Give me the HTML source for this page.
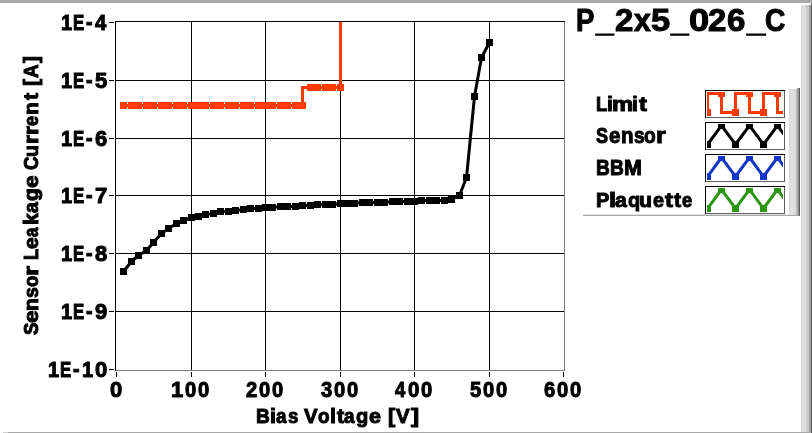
<!DOCTYPE html>
<html><head><meta charset="utf-8"><style>
html,body{margin:0;padding:0;background:#fff;width:812px;height:433px;overflow:hidden}
svg{display:block}
text{font-family:"Liberation Sans",sans-serif;font-weight:bold;fill:#000;stroke:#000}
.t{opacity:0.999}
</style></head><body>
<svg width="812" height="433" viewBox="0 0 812 433">
<rect x="0" y="0" width="812" height="433" fill="#fff"/>
<rect x="0" y="0" width="812" height="3" fill="#a9a9a9"/>
<rect x="8" y="432" width="804" height="1" fill="#a9a9a9"/>
<rect x="3" y="432" width="5" height="1" fill="#cfcfcf"/>
<rect x="801" y="5" width="1" height="427" fill="#d8d8d8"/>
<rect x="802" y="5" width="1" height="427" fill="#dcdcdc"/>
<rect x="803" y="5" width="3" height="427" fill="#e0e0e0"/>
<rect x="806" y="5" width="3" height="427" fill="#cbcbcb"/>
<rect x="809" y="5" width="1" height="427" fill="#a6a6a6"/>
<rect x="810" y="5" width="1" height="427" fill="#9a9a9a"/>
<rect x="811" y="3" width="1" height="430" fill="#606060"/>
<g shape-rendering="crispEdges">
<rect x="191" y="22" width="1" height="348" fill="#000"/><rect x="265" y="22" width="1" height="348" fill="#000"/><rect x="340" y="22" width="1" height="348" fill="#000"/><rect x="414" y="22" width="1" height="348" fill="#000"/><rect x="489" y="22" width="1" height="348" fill="#000"/><rect x="116" y="80" width="448" height="1" fill="#000"/><rect x="116" y="138" width="448" height="1" fill="#000"/><rect x="116" y="195" width="448" height="1" fill="#000"/><rect x="116" y="253" width="448" height="1" fill="#000"/><rect x="116" y="311" width="448" height="1" fill="#000"/>
<rect x="109" y="22" width="5" height="1" fill="#000"/><rect x="109" y="80" width="5" height="1" fill="#000"/><rect x="109" y="138" width="5" height="1" fill="#000"/><rect x="109" y="195" width="5" height="1" fill="#000"/><rect x="109" y="253" width="5" height="1" fill="#000"/><rect x="109" y="311" width="5" height="1" fill="#000"/><rect x="109" y="369" width="5" height="1" fill="#000"/><rect x="116" y="372" width="1" height="5" fill="#000"/><rect x="191" y="372" width="1" height="5" fill="#000"/><rect x="265" y="372" width="1" height="5" fill="#000"/><rect x="340" y="372" width="1" height="5" fill="#000"/><rect x="414" y="372" width="1" height="5" fill="#000"/><rect x="489" y="372" width="1" height="5" fill="#000"/><rect x="563" y="372" width="1" height="5" fill="#000"/>
<rect x="115" y="21" width="450" height="1" fill="#000"/>
<rect x="115" y="21" width="1" height="350" fill="#000"/>
<rect x="116" y="370" width="449" height="1" fill="#808080"/>
<rect x="564" y="22" width="1" height="349" fill="#808080"/>
</g>
<svg x="116" y="22" width="448" height="348" viewBox="116 22 448 348" overflow="hidden">
<path d="M123.5,105.5 L302.5,105.5 L302.5,87.5 L340.5,87.5 L340.5,0" fill="none" stroke="#ff3a00" stroke-width="3"/>
<g fill="#ff3a00" shape-rendering="crispEdges"><rect x="120" y="102" width="7" height="7"/><rect x="128" y="102" width="7" height="7"/><rect x="135" y="102" width="7" height="7"/><rect x="143" y="102" width="7" height="7"/><rect x="150" y="102" width="7" height="7"/><rect x="158" y="102" width="7" height="7"/><rect x="165" y="102" width="7" height="7"/><rect x="173" y="102" width="7" height="7"/><rect x="180" y="102" width="7" height="7"/><rect x="188" y="102" width="7" height="7"/><rect x="195" y="102" width="7" height="7"/><rect x="202" y="102" width="7" height="7"/><rect x="210" y="102" width="7" height="7"/><rect x="217" y="102" width="7" height="7"/><rect x="225" y="102" width="7" height="7"/><rect x="232" y="102" width="7" height="7"/><rect x="240" y="102" width="7" height="7"/><rect x="247" y="102" width="7" height="7"/><rect x="255" y="102" width="7" height="7"/><rect x="262" y="102" width="7" height="7"/><rect x="269" y="102" width="7" height="7"/><rect x="277" y="102" width="7" height="7"/><rect x="284" y="102" width="7" height="7"/><rect x="292" y="102" width="7" height="7"/><rect x="299" y="102" width="7" height="7"/><rect x="307" y="84" width="7" height="7"/><rect x="314" y="84" width="7" height="7"/><rect x="322" y="84" width="7" height="7"/><rect x="329" y="84" width="7" height="7"/><rect x="337" y="84" width="7" height="7"/></g>
<path d="M123.5,271.5 L131.5,261.5 L138.5,255.5 L146.5,250.5 L153.5,242.5 L161.5,233.5 L168.5,228.5 L176.5,223.5 L183.5,220.5 L191.5,217.5 L198.5,216.5 L205.5,214.5 L213.5,213.5 L220.5,211.5 L228.5,211.5 L235.5,210.5 L243.5,209.5 L250.5,208.5 L258.5,208.5 L265.5,207.5 L272.5,207.5 L280.5,206.5 L287.5,206.5 L295.5,206.5 L302.5,205.5 L310.5,205.5 L317.5,204.5 L325.5,204.5 L332.5,204.5 L340.5,203.5 L347.5,203.5 L354.5,203.5 L362.5,202.5 L369.5,202.5 L377.5,202.5 L384.5,202.5 L392.5,201.5 L399.5,201.5 L407.5,201.5 L414.5,201.5 L421.5,200.5 L429.5,200.5 L436.5,200.5 L444.5,200.5 L451.5,199.5 L459.5,195.5 L466.5,177.5 L474.5,96.5 L481.5,57.5 L489.5,42.5" fill="none" stroke="#000" stroke-width="3" stroke-linejoin="round"/>
<g fill="#000" shape-rendering="crispEdges"><rect x="120" y="268" width="7" height="7"/><rect x="128" y="258" width="7" height="7"/><rect x="135" y="252" width="7" height="7"/><rect x="143" y="247" width="7" height="7"/><rect x="150" y="239" width="7" height="7"/><rect x="158" y="230" width="7" height="7"/><rect x="165" y="225" width="7" height="7"/><rect x="173" y="220" width="7" height="7"/><rect x="180" y="217" width="7" height="7"/><rect x="188" y="214" width="7" height="7"/><rect x="195" y="213" width="7" height="7"/><rect x="202" y="211" width="7" height="7"/><rect x="210" y="210" width="7" height="7"/><rect x="217" y="208" width="7" height="7"/><rect x="225" y="208" width="7" height="7"/><rect x="232" y="207" width="7" height="7"/><rect x="240" y="206" width="7" height="7"/><rect x="247" y="205" width="7" height="7"/><rect x="255" y="205" width="7" height="7"/><rect x="262" y="204" width="7" height="7"/><rect x="269" y="204" width="7" height="7"/><rect x="277" y="203" width="7" height="7"/><rect x="284" y="203" width="7" height="7"/><rect x="292" y="203" width="7" height="7"/><rect x="299" y="202" width="7" height="7"/><rect x="307" y="202" width="7" height="7"/><rect x="314" y="201" width="7" height="7"/><rect x="322" y="201" width="7" height="7"/><rect x="329" y="201" width="7" height="7"/><rect x="337" y="200" width="7" height="7"/><rect x="344" y="200" width="7" height="7"/><rect x="351" y="200" width="7" height="7"/><rect x="359" y="199" width="7" height="7"/><rect x="366" y="199" width="7" height="7"/><rect x="374" y="199" width="7" height="7"/><rect x="381" y="199" width="7" height="7"/><rect x="389" y="198" width="7" height="7"/><rect x="396" y="198" width="7" height="7"/><rect x="404" y="198" width="7" height="7"/><rect x="411" y="198" width="7" height="7"/><rect x="418" y="197" width="7" height="7"/><rect x="426" y="197" width="7" height="7"/><rect x="433" y="197" width="7" height="7"/><rect x="441" y="197" width="7" height="7"/><rect x="448" y="196" width="7" height="7"/><rect x="456" y="192" width="7" height="7"/><rect x="463" y="174" width="7" height="7"/><rect x="471" y="93" width="7" height="7"/><rect x="478" y="54" width="7" height="7"/><rect x="486" y="39" width="7" height="7"/></g>
</svg>
<g class="t"><text transform="translate(61.00,30.00) scale(0.9091,1)" font-size="22.000" stroke-width="1.0">1</text>
<text transform="translate(73.00,30.00) scale(0.7652,1)" font-size="22.000" stroke-width="1.0">E</text>
<text transform="translate(86.00,29.00) scale(0.8928,1)" font-size="22.000" stroke-width="1.0">-</text>
<text transform="translate(95.00,30.00) scale(0.9231,1)" font-size="22.000" stroke-width="1.0">4</text>
<text transform="translate(61.00,88.00) scale(0.9091,1)" font-size="22.000" stroke-width="1.0">1</text>
<text transform="translate(73.00,88.00) scale(0.7652,1)" font-size="22.000" stroke-width="1.0">E</text>
<text transform="translate(86.00,87.00) scale(0.8928,1)" font-size="22.000" stroke-width="1.0">-</text>
<text transform="translate(95.00,88.00) scale(1.0000,1)" font-size="22.000" stroke-width="1.0">5</text>
<text transform="translate(61.00,146.00) scale(0.9091,1)" font-size="22.000" stroke-width="1.0">1</text>
<text transform="translate(73.00,146.00) scale(0.7652,1)" font-size="22.000" stroke-width="1.0">E</text>
<text transform="translate(86.00,145.00) scale(0.8928,1)" font-size="22.000" stroke-width="1.0">-</text>
<text transform="translate(95.00,146.00) scale(1.0000,1)" font-size="22.000" stroke-width="1.0">6</text>
<text transform="translate(61.00,203.00) scale(0.9091,1)" font-size="22.000" stroke-width="1.0">1</text>
<text transform="translate(73.00,203.00) scale(0.7652,1)" font-size="22.000" stroke-width="1.0">E</text>
<text transform="translate(86.00,202.00) scale(0.8928,1)" font-size="22.000" stroke-width="1.0">-</text>
<text transform="translate(95.00,203.00) scale(1.0000,1)" font-size="22.000" stroke-width="1.0">7</text>
<text transform="translate(61.00,261.00) scale(0.9091,1)" font-size="22.000" stroke-width="1.0">1</text>
<text transform="translate(73.00,261.00) scale(0.7652,1)" font-size="22.000" stroke-width="1.0">E</text>
<text transform="translate(86.00,260.00) scale(0.8928,1)" font-size="22.000" stroke-width="1.0">-</text>
<text transform="translate(95.00,261.00) scale(1.0000,1)" font-size="22.000" stroke-width="1.0">8</text>
<text transform="translate(61.00,319.00) scale(0.9091,1)" font-size="22.000" stroke-width="1.0">1</text>
<text transform="translate(73.00,319.00) scale(0.7652,1)" font-size="22.000" stroke-width="1.0">E</text>
<text transform="translate(86.00,318.00) scale(0.8928,1)" font-size="22.000" stroke-width="1.0">-</text>
<text transform="translate(95.00,319.00) scale(1.0000,1)" font-size="22.000" stroke-width="1.0">9</text>
<text transform="translate(48.00,377.00) scale(0.9091,1)" font-size="22.000" stroke-width="1.0">1</text>
<text transform="translate(60.00,377.00) scale(0.7652,1)" font-size="22.000" stroke-width="1.0">E</text>
<text transform="translate(73.00,376.00) scale(0.8928,1)" font-size="22.000" stroke-width="1.0">-</text>
<text transform="translate(82.00,377.00) scale(0.9091,1)" font-size="22.000" stroke-width="1.0">1</text>
<text transform="translate(95.00,377.00) scale(1.0070,1)" font-size="22.000" stroke-width="1.0">0</text>
<text transform="translate(110.00,397.00) scale(1.0000,1)" font-size="22.000" stroke-width="1.0">0</text>
<text transform="translate(171.00,397.00) scale(1.0000,1)" font-size="22.000" stroke-width="1.0">1</text>
<text transform="translate(185.00,397.00) scale(0.9167,1)" font-size="22.000" stroke-width="1.0">0</text>
<text transform="translate(198.00,397.00) scale(0.9167,1)" font-size="22.000" stroke-width="1.0">0</text>
<text transform="translate(246.00,397.00) scale(0.9167,1)" font-size="22.000" stroke-width="1.0">2</text>
<text transform="translate(259.00,397.00) scale(0.9167,1)" font-size="22.000" stroke-width="1.0">0</text>
<text transform="translate(272.00,397.00) scale(0.9167,1)" font-size="22.000" stroke-width="1.0">0</text>
<text transform="translate(321.00,397.00) scale(0.9167,1)" font-size="22.000" stroke-width="1.0">3</text>
<text transform="translate(334.00,397.00) scale(0.9167,1)" font-size="22.000" stroke-width="1.0">0</text>
<text transform="translate(347.00,397.00) scale(0.9167,1)" font-size="22.000" stroke-width="1.0">0</text>
<text transform="translate(395.00,397.00) scale(0.8403,1)" font-size="22.000" stroke-width="1.0">4</text>
<text transform="translate(408.00,397.00) scale(0.9308,1)" font-size="22.000" stroke-width="1.0">0</text>
<text transform="translate(421.00,397.00) scale(0.9167,1)" font-size="22.000" stroke-width="1.0">0</text>
<text transform="translate(470.00,397.00) scale(0.9167,1)" font-size="22.000" stroke-width="1.0">5</text>
<text transform="translate(483.00,397.00) scale(0.9167,1)" font-size="22.000" stroke-width="1.0">0</text>
<text transform="translate(496.00,397.00) scale(0.9167,1)" font-size="22.000" stroke-width="1.0">0</text>
<text transform="translate(544.00,397.00) scale(0.9167,1)" font-size="22.000" stroke-width="1.0">6</text>
<text transform="translate(557.00,397.00) scale(0.9167,1)" font-size="22.000" stroke-width="1.0">0</text>
<text transform="translate(570.00,397.00) scale(0.9167,1)" font-size="22.000" stroke-width="1.0">0</text>
<text transform="translate(596.00,111.00) scale(0.8999,1)" font-size="20.417" stroke-width="1.0">L</text>
<text transform="translate(607.00,111.00) scale(1.0412,1)" font-size="20.417" stroke-width="1.0">i</text>
<text transform="translate(612.00,111.00) scale(1.1682,1)" font-size="20.417" stroke-width="1.0">m</text>
<text transform="translate(632.00,111.00) scale(1.0412,1)" font-size="20.417" stroke-width="1.0">i</text>
<text transform="translate(639.00,111.00) scale(1.1586,1)" font-size="20.417" stroke-width="1.0">t</text>
<text transform="translate(596.00,143.00) scale(0.8376,1)" font-size="21.575" stroke-width="1.0">S</text>
<text transform="translate(609.00,143.00) scale(0.9520,1)" font-size="21.575" stroke-width="1.0">e</text>
<text transform="translate(621.00,143.00) scale(0.9520,1)" font-size="21.575" stroke-width="1.0">n</text>
<text transform="translate(634.00,143.00) scale(0.8821,1)" font-size="21.575" stroke-width="1.0">s</text>
<text transform="translate(644.00,143.00) scale(0.8880,1)" font-size="21.575" stroke-width="1.0">o</text>
<text transform="translate(656.00,143.00) scale(1.1640,1)" font-size="21.575" stroke-width="1.0">r</text>
<text transform="translate(596.00,175.00) scale(0.8874,1)" font-size="21.575" stroke-width="1.0">B</text>
<text transform="translate(610.00,175.00) scale(0.8874,1)" font-size="21.575" stroke-width="1.0">B</text>
<text transform="translate(624.00,175.00) scale(0.9962,1)" font-size="21.575" stroke-width="1.0">M</text>
<text transform="translate(596.00,207.00) scale(0.9762,1)" font-size="20.488" stroke-width="1.0">P</text>
<text transform="translate(609.00,207.00) scale(1.2441,1)" font-size="20.488" stroke-width="1.0">l</text>
<text transform="translate(615.00,207.00) scale(1.0407,1)" font-size="20.488" stroke-width="1.0">a</text>
<text transform="translate(628.00,207.00) scale(0.9707,1)" font-size="20.488" stroke-width="1.0">q</text>
<text transform="translate(639.00,207.00) scale(1.0407,1)" font-size="20.488" stroke-width="1.0">u</text>
<text transform="translate(653.00,207.00) scale(0.9707,1)" font-size="20.488" stroke-width="1.0">e</text>
<text transform="translate(665.00,207.00) scale(1.1581,1)" font-size="20.488" stroke-width="1.0">t</text>
<text transform="translate(674.00,207.00) scale(1.0407,1)" font-size="20.488" stroke-width="1.0">t</text>
<text transform="translate(682.00,207.00) scale(0.8995,1)" font-size="20.488" stroke-width="1.0">e</text>
<text transform="translate(576.00,31.00) scale(0.8875,1)" font-size="31.045" stroke-width="1.0">P</text>
<text transform="translate(596.00,31.00) scale(1.0203,1)" font-size="31.045" stroke-width="1.0">_</text>
<text transform="translate(615.00,31.00) scale(1.0630,1)" font-size="31.045" stroke-width="1.0">2</text>
<text transform="translate(634.00,31.00) scale(0.9701,1)" font-size="31.045" stroke-width="1.0">x</text>
<text transform="translate(651.00,31.00) scale(1.1127,1)" font-size="31.045" stroke-width="1.0">5</text>
<text transform="translate(671.00,31.00) scale(1.0203,1)" font-size="31.045" stroke-width="1.0">_</text>
<text transform="translate(689.00,31.00) scale(1.1680,1)" font-size="31.045" stroke-width="1.0">0</text>
<text transform="translate(708.00,31.00) scale(1.0630,1)" font-size="31.045" stroke-width="1.0">2</text>
<text transform="translate(727.00,31.00) scale(1.0630,1)" font-size="31.045" stroke-width="1.0">6</text>
<text transform="translate(747.00,31.00) scale(1.0630,1)" font-size="31.045" stroke-width="1.0">_</text>
<text transform="translate(765.00,31.00) scale(0.9074,1)" font-size="31.045" stroke-width="1.0">C</text>
<text transform="translate(256.00,423.00) scale(0.9288,1)" font-size="20.534" stroke-width="1.0">B</text>
<text transform="translate(270.00,423.00) scale(1.0507,1)" font-size="20.534" stroke-width="1.0">i</text>
<text transform="translate(276.00,423.00) scale(0.9193,1)" font-size="20.534" stroke-width="1.0">a</text>
<text transform="translate(288.00,423.00) scale(0.9081,1)" font-size="20.534" stroke-width="1.0">s</text>
<text transform="translate(304.00,423.00) scale(0.9943,1)" font-size="20.534" stroke-width="1.0">V</text>
<text transform="translate(318.00,423.00) scale(0.9193,1)" font-size="20.534" stroke-width="1.0">o</text>
<text transform="translate(330.00,423.00) scale(1.0507,1)" font-size="20.534" stroke-width="1.0">l</text>
<text transform="translate(337.00,423.00) scale(1.0507,1)" font-size="20.534" stroke-width="1.0">t</text>
<text transform="translate(344.00,423.00) scale(0.9193,1)" font-size="20.534" stroke-width="1.0">a</text>
<text transform="translate(356.00,423.00) scale(0.9801,1)" font-size="20.534" stroke-width="1.0">g</text>
<text transform="translate(369.00,423.00) scale(1.0507,1)" font-size="20.534" stroke-width="1.0">e</text>
<text transform="translate(388.00,423.00) scale(1.0507,1)" font-size="20.534" stroke-width="1.0">[</text>
<text transform="translate(396.00,423.00) scale(0.9943,1)" font-size="20.534" stroke-width="1.0">V</text>
<text transform="translate(411.00,423.00) scale(1.1886,1)" font-size="20.534" stroke-width="1.0">]</text>
<text transform="translate(38.00,335.00) rotate(-90) scale(0.9338,1)" font-size="19.951" stroke-width="1.0">S</text>
<text transform="translate(38.00,323.00) rotate(-90) scale(1.1325,1)" font-size="19.951" stroke-width="1.0">e</text>
<text transform="translate(38.00,311.00) rotate(-90) scale(1.0564,1)" font-size="19.951" stroke-width="1.0">n</text>
<text transform="translate(38.00,298.00) rotate(-90) scale(0.9788,1)" font-size="19.951" stroke-width="1.0">s</text>
<text transform="translate(38.00,287.00) rotate(-90) scale(0.9191,1)" font-size="19.951" stroke-width="1.0">o</text>
<text transform="translate(38.00,276.00) rotate(-90) scale(1.2916,1)" font-size="19.951" stroke-width="1.0">r</text>
<text transform="translate(38.00,260.00) rotate(-90) scale(0.9130,1)" font-size="19.951" stroke-width="1.0">L</text>
<text transform="translate(38.00,249.00) rotate(-90) scale(1.0564,1)" font-size="19.951" stroke-width="1.0">e</text>
<text transform="translate(38.00,237.00) rotate(-90) scale(0.8460,1)" font-size="19.951" stroke-width="1.0">a</text>
<text transform="translate(38.00,225.00) rotate(-90) scale(1.0564,1)" font-size="19.951" stroke-width="1.0">k</text>
<text transform="translate(38.00,213.00) rotate(-90) scale(0.9853,1)" font-size="19.951" stroke-width="1.0">a</text>
<text transform="translate(38.00,201.00) rotate(-90) scale(1.0564,1)" font-size="19.951" stroke-width="1.0">g</text>
<text transform="translate(38.00,188.00) rotate(-90) scale(1.1325,1)" font-size="19.951" stroke-width="1.0">e</text>
<text transform="translate(38.00,170.00) rotate(-90) scale(0.9421,1)" font-size="19.951" stroke-width="1.0">C</text>
<text transform="translate(38.00,157.00) rotate(-90) scale(0.9788,1)" font-size="19.951" stroke-width="1.0">u</text>
<text transform="translate(38.00,144.00) rotate(-90) scale(1.1755,1)" font-size="19.951" stroke-width="1.0">r</text>
<text transform="translate(38.00,135.00) rotate(-90) scale(1.1755,1)" font-size="19.951" stroke-width="1.0">r</text>
<text transform="translate(38.00,126.00) rotate(-90) scale(0.9070,1)" font-size="19.951" stroke-width="1.0">e</text>
<text transform="translate(38.00,115.00) rotate(-90) scale(1.0564,1)" font-size="19.951" stroke-width="1.0">n</text>
<text transform="translate(38.00,100.00) rotate(-90) scale(1.0564,1)" font-size="19.951" stroke-width="1.0">t</text>
<text transform="translate(38.00,86.00) rotate(-90) scale(1.0564,1)" font-size="19.951" stroke-width="1.0">[</text>
<text transform="translate(38.00,78.00) rotate(-90) scale(0.9421,1)" font-size="19.951" stroke-width="1.0">A</text>
<text transform="translate(38.00,63.00) rotate(-90) scale(1.0564,1)" font-size="19.951" stroke-width="1.0">]</text>
</g>
<rect x="705" y="90" width="80" height="28" fill="#fff"/><rect x="705" y="90" width="80" height="1" fill="#000"/><rect x="705" y="90" width="1" height="28" fill="#000"/><rect x="706" y="117" width="79" height="1" fill="#606060"/><rect x="784" y="91" width="1" height="27" fill="#606060"/><svg x="707" y="92" width="76" height="24" viewBox="707 92 76 24" overflow="hidden"><path d="M707.5,112.5 L707.5,93.5 L721.5,93.5 L721.5,112.5 L735.5,112.5 L735.5,93.5 L749.5,93.5 L749.5,112.5 L763.5,112.5 L763.5,93.5 L777.5,93.5 L777.5,112.5 L791.5,112.5" fill="none" stroke="#ff3a00" stroke-width="3"/><g fill="#ff3a00" shape-rendering="crispEdges"><rect x="704" y="109" width="7" height="7"/><rect x="718" y="90" width="7" height="7"/><rect x="732" y="109" width="7" height="7"/><rect x="746" y="90" width="7" height="7"/><rect x="760" y="109" width="7" height="7"/><rect x="774" y="90" width="7" height="7"/><rect x="788" y="109" width="7" height="7"/></g></svg><rect x="705" y="122" width="80" height="28" fill="#fff"/><rect x="705" y="122" width="80" height="1" fill="#000"/><rect x="705" y="122" width="1" height="28" fill="#000"/><rect x="706" y="149" width="79" height="1" fill="#606060"/><rect x="784" y="123" width="1" height="27" fill="#606060"/><svg x="707" y="124" width="76" height="24" viewBox="707 124 76 24" overflow="hidden"><path d="M707.5,144.5 L721.5,125.5 L735.5,144.5 L749.5,125.5 L763.5,144.5 L777.5,125.5 L791.5,144.5" fill="none" stroke="#000000" stroke-width="3"/><g fill="#000000" shape-rendering="crispEdges"><rect x="704" y="141" width="7" height="7"/><rect x="718" y="122" width="7" height="7"/><rect x="732" y="141" width="7" height="7"/><rect x="746" y="122" width="7" height="7"/><rect x="760" y="141" width="7" height="7"/><rect x="774" y="122" width="7" height="7"/><rect x="788" y="141" width="7" height="7"/></g></svg><rect x="705" y="154" width="80" height="28" fill="#fff"/><rect x="705" y="154" width="80" height="1" fill="#000"/><rect x="705" y="154" width="1" height="28" fill="#000"/><rect x="706" y="181" width="79" height="1" fill="#606060"/><rect x="784" y="155" width="1" height="27" fill="#606060"/><svg x="707" y="156" width="76" height="24" viewBox="707 156 76 24" overflow="hidden"><path d="M707.5,176.5 L721.5,157.5 L735.5,176.5 L749.5,157.5 L763.5,176.5 L777.5,157.5 L791.5,176.5" fill="none" stroke="#1236c6" stroke-width="3"/><g fill="#1236c6" shape-rendering="crispEdges"><rect x="704" y="173" width="7" height="7"/><rect x="718" y="154" width="7" height="7"/><rect x="732" y="173" width="7" height="7"/><rect x="746" y="154" width="7" height="7"/><rect x="760" y="173" width="7" height="7"/><rect x="774" y="154" width="7" height="7"/><rect x="788" y="173" width="7" height="7"/></g></svg><rect x="705" y="186" width="80" height="28" fill="#fff"/><rect x="705" y="186" width="80" height="1" fill="#000"/><rect x="705" y="186" width="1" height="28" fill="#000"/><rect x="706" y="213" width="79" height="1" fill="#606060"/><rect x="784" y="187" width="1" height="27" fill="#606060"/><svg x="707" y="188" width="76" height="24" viewBox="707 188 76 24" overflow="hidden"><path d="M707.5,208.5 L721.5,189.5 L735.5,208.5 L749.5,189.5 L763.5,208.5 L777.5,189.5 L791.5,208.5" fill="none" stroke="#2a9612" stroke-width="3"/><g fill="#2a9612" shape-rendering="crispEdges"><rect x="704" y="205" width="7" height="7"/><rect x="718" y="186" width="7" height="7"/><rect x="732" y="205" width="7" height="7"/><rect x="746" y="186" width="7" height="7"/><rect x="760" y="205" width="7" height="7"/><rect x="774" y="186" width="7" height="7"/><rect x="788" y="205" width="7" height="7"/></g></svg>
<rect x="583" y="214" width="206" height="1" fill="#e2e2e2"/>
<rect x="583" y="215" width="217" height="1" fill="#a8a8a8"/>
<rect x="789" y="89" width="1" height="126" fill="#d6d6d6"/>
<rect x="790" y="89" width="5" height="126" fill="#dfdfdf"/>
<rect x="795" y="89" width="1" height="126" fill="#d4d4d4"/>
<rect x="796" y="89" width="1" height="126" fill="#c6c6c6"/>
<rect x="797" y="88" width="1" height="127" fill="#a8a8a8"/>
<rect x="798" y="88" width="1" height="127" fill="#8e8e8e"/>
<rect x="799" y="88" width="1" height="128" fill="#5e5e5e"/>
</svg>
</body></html>
